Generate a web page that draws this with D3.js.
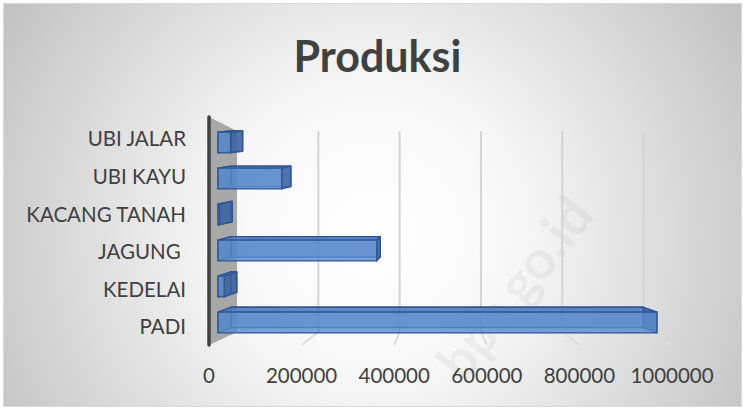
<!DOCTYPE html>
<html>
<head>
<meta charset="utf-8">
<script src="https://cdn.jsdelivr.net/npm/d3@7"></script>
<style>
  body { margin: 0; background: #fff; }
  svg { display: block; font-family: Lato, "Open Sans", sans-serif; }
</style>
</head>
<body>
<svg id="chart" width="744" height="409"></svg>
<script>
(function() {
  'use strict';

  // data (tonnes)
  var categories = ['PADI', 'KEDELAI', 'JAGUNG ', 'KACANG TANAH', 'UBI KAYU', 'UBI JALAR'];
  var produksi = [984000, 14000, 356000, 3500, 143000, 28000];
  var tickValues = [0, 200000, 400000, 600000, 800000, 1000000];
  var title = 'Produksi';

  var W = 744, H = 409;
  var VPX = 433, VPY = 71;      // rough vanishing point of the 3d view
  var DEPTH_X = 0.06, DEPTH_Y = 0.02;

  var svg = d3.select('#chart');
  var defs = svg.append('defs');

  var grad = defs.append('radialGradient')
    .attr('id', 'bg')
    .attr('gradientUnits', 'userSpaceOnUse')
    .attr('cx', 372).attr('cy', 235).attr('r', 430);
  grad.append('stop').attr('offset', 0).attr('stop-color', '#ffffff');
  grad.append('stop').attr('offset', 0.35).attr('stop-color', '#f7f7f7');
  grad.append('stop').attr('offset', 1).attr('stop-color', '#c2c2c2');

  svg.append('rect')
    .attr('x', 3.5).attr('y', 3.5)
    .attr('width', W - 6).attr('height', H - 6)
    .attr('fill', 'url(#bg)')
    .attr('stroke', '#d9d9d9');

  // scales: front floor (labels), back wall (gridlines), bar front plane
  var xFloor = d3.scaleLinear().domain([0, 1000000]).range([209, 672]);
  var xWall = d3.scaleLinear().domain([0, 1000000]).range([237, 643.6]);
  var xBar = d3.scaleLinear().domain([0, 1000000]).range([218, 664]);

  var yLabel = d3.scaleBand().domain(categories).range([345.8, 120.2]);
  var yBar = d3.scaleBand().domain(categories).range([340.5, 124.5])
    .paddingInner(0.42).paddingOuter(0.21);

  var WALL_TOP = 131, WALL_BOTTOM = 332, FLOOR_FRONT = 345, AXIS_TOP = 117;

  // watermark
  svg.append('text')
    .attr('transform', 'translate(530,300) rotate(-52)')
    .attr('text-anchor', 'middle')
    .attr('font-size', 54)
    .attr('font-weight', 700)
    .attr('fill', '#000')
    .attr('fill-opacity', 0.045)
    .text('bps.go.id');

  // back wall gridlines + their floor continuation
  var grid = svg.append('g').attr('class', 'grid');
  var gridVals = tickValues.slice(1);
  grid.selectAll('line.wall')
    .data(gridVals)
    .enter().append('line')
    .attr('class', 'wall')
    .attr('x1', function(d) { return xWall(d); })
    .attr('x2', function(d) { return xWall(d); })
    .attr('y1', WALL_TOP)
    .attr('y2', WALL_BOTTOM)
    .attr('stroke', '#d4d4d4')
    .attr('stroke-width', 2);
  grid.selectAll('line.floor')
    .data(gridVals)
    .enter().append('line')
    .attr('class', 'floor')
    .attr('x1', function(d) { return xWall(d); })
    .attr('x2', function(d) { return xFloor(d); })
    .attr('y1', WALL_BOTTOM)
    .attr('y2', FLOOR_FRONT)
    .attr('stroke', '#dcdcdc')
    .attr('stroke-width', 2);

  // left side wall and axis
  svg.append('path')
    .attr('d', d3.line()([
      [xFloor(0), AXIS_TOP], [xWall(0), WALL_TOP],
      [xWall(0), WALL_BOTTOM], [xFloor(0), FLOOR_FRONT]
    ]))
    .attr('fill', '#a8a8a8');
  svg.append('line')
    .attr('x1', xFloor(0)).attr('x2', xFloor(0))
    .attr('y1', AXIS_TOP).attr('y2', FLOOR_FRONT)
    .attr('stroke', '#3f3f3f')
    .attr('stroke-width', 3.5)
    .attr('stroke-linecap', 'round');

  var back = function(p) {
    return [p[0] + (VPX - p[0]) * DEPTH_X, p[1] + (VPY - p[1]) * DEPTH_Y];
  };

  var line = d3.line();
  var bars = svg.append('g').attr('class', 'bars');

  categories.forEach(function(cat, i) {
    var x0 = xBar(0), x1 = xBar(produksi[i]);
    var y0 = yBar(cat), y1 = y0 + yBar.bandwidth();
    var f = [[x0, y0], [x1, y0], [x1, y1], [x0, y1]];
    var b = f.map(back);
    var g = bars.append('g');
    var style = function(sel, fill, op) {
      sel.attr('fill', fill)
        .attr('fill-opacity', op)
        .attr('stroke', '#2f5597')
        .attr('stroke-width', 1.3)
        .attr('stroke-linejoin', 'round');
    };

    g.append('path').attr('d', line(b) + 'Z').call(style, '#4472c4', 0.45);
    g.append('path').attr('d', line([f[0], b[0], b[3], f[3]]) + 'Z').call(style, '#3a64ab', 0.35);
    g.append('path').attr('d', line([f[0], f[1], b[1], b[0]]) + 'Z').call(style, '#4b79bf', 0.8);
    g.append('path').attr('d', line([f[1], b[1], b[2], f[2]]) + 'Z').call(style, '#38609f', 0.8);
    g.append('path').attr('d', line(f) + 'Z').call(style, '#5689cc', 0.8);
  });

  // category labels
  svg.append('g')
    .selectAll('text')
    .data(categories)
    .enter().append('text')
    .attr('x', 186)
    .attr('y', function(d) { return yLabel(d) + yLabel.bandwidth() / 2; })
    .attr('dy', '0.36em')
    .attr('text-anchor', 'end')
    .style('white-space', 'pre')
    .attr('font-size', 20.5)
    .attr('fill', '#404040')
    .text(function(d) { return d; });

  // value axis labels
  svg.append('g')
    .selectAll('text')
    .data(tickValues)
    .enter().append('text')
    .attr('x', function(d) { return xFloor(d); })
    .attr('y', 382.5)
    .attr('text-anchor', 'middle')
    .attr('font-size', 20.5)
    .attr('fill', '#404040')
    .text(function(d) { return d3.format('d')(d); });

  svg.append('text')
    .attr('x', 377.5)
    .attr('y', 72)
    .attr('text-anchor', 'middle')
    .attr('font-size', 43)
    .attr('font-weight', 700)
    .attr('fill', '#404040')
    .text(title);
})();
</script>
</body>
</html>
